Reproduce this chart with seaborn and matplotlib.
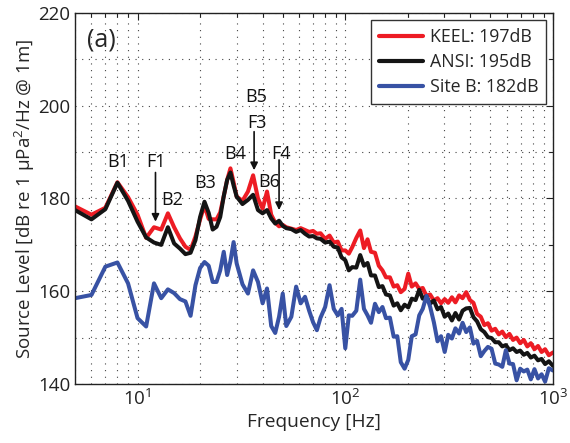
import matplotlib
matplotlib.use("Agg")
import matplotlib.pyplot as plt
import pandas as pd
import seaborn as sns
from matplotlib.ticker import FixedLocator, LogLocator, LogFormatterMathtext, NullFormatter

# Frequency grid [Hz] shared by the three spectra
freq_hz = [5, 6, 7, 8, 9, 10, 11, 12, 13, 14, 15, 16, 17, 18, 19, 20, 21, 22, 23, 24, 25, 26, 27, 28, 29, 30,
           32, 34, 36, 38, 40, 42, 44, 46, 48, 50, 52, 55, 58, 61,
           64, 67, 70, 73, 76, 80, 84, 88, 92, 96,
           100, 104, 108, 113, 118, 123, 128, 133, 139, 145,
           151, 157, 164, 171, 178, 185, 193, 201, 209, 218,
           227, 236, 246, 256, 267, 278, 289, 301, 313, 326,
           339, 353, 367, 382, 398, 414, 431, 449, 467, 486,
           506, 527, 548, 570, 593, 617, 642, 668, 695, 723,
           752, 782, 814, 847, 881, 916, 955, 1000]

# Source levels [dB re 1 uPa^2/Hz @ 1m]
keel_db = [178.3, 176.5, 178.0, 183.5, 180.3, 176.5, 171.5, 173.8, 173.3, 176.8, 173.8, 171.4, 169.6, 168.9, 171.8,
           175.5, 178.5, 175.6, 175.5, 175.5, 177.0, 180.5, 184.0, 186.5, 183.5, 180.4,
           179.5, 181.5, 185.0, 180.0, 177.8, 181.5, 176.5, 174.8, 174.0, 174.3, 173.8, 173.5, 173.2, 173.6,
           173.2, 172.8, 173.0, 172.4, 172.5, 171.3, 172.0, 170.5, 170.7, 168.8,
           168.8, 168.1, 169.5, 171.5, 173.1, 169.3, 171.2, 168.5, 168.3, 165.5,
           164.5, 163.0, 163.0, 161.0, 161.3, 159.8, 160.5, 163.8, 161.0, 161.7,
           160.5, 160.7, 159.0, 159.3, 158.0, 158.5, 157.4, 158.3, 157.5, 158.7,
           157.6, 159.1, 158.5, 159.8, 158.1, 157.5, 155.1, 154.5, 152.7, 153.1,
           151.5, 151.9, 150.7, 151.3, 150.1, 150.8, 149.5, 150.0, 148.8, 149.5,
           148.1, 148.8, 147.5, 148.2, 146.9, 147.5, 146.2, 146.8]

ansi_db = [177.5, 175.5, 177.7, 183.4, 179.5, 175.0, 171.6, 170.5, 170.0, 173.8, 170.3, 169.2, 168.0, 168.3, 171.0,
           176.0, 179.3, 176.9, 173.3, 173.9, 176.0, 180.5, 184.0, 185.6, 182.8, 180.4,
           178.8, 179.7, 180.8, 177.5, 176.8, 177.5, 175.7, 174.6, 175.2, 174.1, 173.6, 173.4, 172.8, 173.2,
           172.4, 171.8, 171.9, 171.4, 171.3, 170.5, 170.7, 169.6, 169.4, 167.3,
           166.7, 164.5, 165.2, 165.1, 167.8, 165.5, 166.1, 163.4, 163.4, 160.9,
           161.1, 159.3, 159.1, 156.9, 157.4, 155.9, 157.1, 156.5, 158.4, 158.1,
           160.3, 158.4, 158.9, 157.3, 158.0, 156.1, 156.6, 154.5, 155.2, 153.7,
           155.3, 153.9, 155.8, 156.3, 156.4, 154.4, 153.5, 151.8, 151.2, 150.1,
           149.9, 149.0, 149.0, 148.1, 148.4, 147.3, 147.7, 146.9, 147.2, 146.3,
           146.7, 145.7, 146.1, 145.1, 145.4, 144.3, 144.9, 143.9]

site_b_db = [158.5, 159.2, 165.3, 166.2, 161.7, 154.2, 152.4, 161.7, 158.5, 160.4, 159.6, 158.3, 157.8, 154.7, 161.3,
             165.0, 166.3, 165.5, 162.0, 162.0, 164.5, 168.5, 163.5, 166.5, 170.6, 166.0,
             161.5, 159.5, 164.5, 162.0, 157.4, 160.6, 152.5, 151.0, 154.5, 159.5, 152.5, 154.5, 161.0, 157.4,
             158.8, 155.8, 153.3, 151.6, 154.3, 156.6, 161.3, 156.2, 154.8, 156.2,
             147.7, 154.8, 154.7, 155.8, 162.5, 156.2, 154.8, 153.2, 157.3, 155.5,
             156.6, 154.2, 154.3, 150.2, 150.3, 144.7, 143.3, 145.2, 150.3, 150.7,
             154.8, 156.2, 159.0, 156.7, 153.3, 149.2, 150.3, 146.9, 150.6, 149.8,
             152.0, 150.9, 153.2, 151.2, 152.2, 148.7, 149.3, 146.0, 147.1, 148.0,
             147.6, 144.4, 144.2, 143.7, 147.3, 144.4, 144.3, 140.8, 143.3, 142.7,
             143.1, 141.0, 143.2, 141.2, 142.1, 140.5, 143.4, 142.9]

series_labels = ["KEEL: 197dB", "ANSI: 195dB", "Site B: 182dB"]
series_colors = ["#ed1c24", "#141414", "#3852a4"]

# Text labels for spectral features: (text, frequency, level)
feature_text = ["B1", "F1", "B2", "B3", "B4", "B5", "F3", "B6", "F4"]
feature_freq = [8.07, 12.3, 14.6, 21.1, 29.4, 37.4, 37.4, 43.0, 48.9]
feature_level = [187.8, 187.8, 179.7, 183.3, 189.6, 201.8, 196.2, 183.6, 189.6]

# Arrows: frequency, tail level, head level
arrow_freq = [12.2, 36.4, 48.0]
arrow_tail = [185.6, 194.4, 188.3]
arrow_head = [175.0, 186.1, 177.5]

sns.set_style("white")
plt.rcParams["font.family"] = ["Open Sans", "DejaVu Sans"]
plt.rcParams["mathtext.fontset"] = "custom"
plt.rcParams["mathtext.rm"] = "Open Sans"
plt.rcParams["mathtext.it"] = "Open Sans:italic"

df = pd.DataFrame({
    "Frequency": freq_hz * 3,
    "Level": keel_db + ansi_db + site_b_db,
    "Series": [series_labels[0]] * len(freq_hz) + [series_labels[1]] * len(freq_hz) + [series_labels[2]] * len(freq_hz),
})

fig, ax = plt.subplots(figsize=(5.7, 4.43), dpi=100)
fig.subplots_adjust(left=0.1316, right=0.9702, bottom=0.1332, top=0.9707)

sns.lineplot(data=df, x="Frequency", y="Level", hue="Series", hue_order=series_labels,
             palette=dict(zip(series_labels, series_colors)), linewidth=2.9,
             estimator=None, sort=False, ax=ax)

ax.set_xscale("log")
ax.set_xlim(5, 1000)
ax.set_ylim(140, 220)

ax.xaxis.set_major_locator(LogLocator(base=10))
ax.xaxis.set_major_formatter(LogFormatterMathtext())
ax.xaxis.set_minor_locator(LogLocator(base=10, subs=[2, 3, 4, 5, 6, 7, 8, 9]))
ax.xaxis.set_minor_formatter(NullFormatter())
ax.yaxis.set_major_locator(FixedLocator([140, 160, 180, 200, 220]))
ax.yaxis.set_minor_locator(FixedLocator([150, 170, 190, 210]))

ax.grid(True, which="both", linestyle=(0, (1, 5)), color="#444444", linewidth=0.8)
ax.tick_params(which="both", direction="in", top=True, right=True, colors="#222222", labelsize=13.5)
ax.tick_params(which="major", length=5, width=0.8)
ax.tick_params(which="minor", length=3, width=0.8)
for s in ax.spines.values():
    s.set_color("#222222")
    s.set_linewidth(1.0)

ax.set_xlabel("Frequency [Hz]", fontsize=13.8, labelpad=3)
ax.set_ylabel("Source Level [dB re 1 \u03bcPa$^2$/Hz @ 1m]", fontsize=13.5, labelpad=1)

for t, f, lv in zip(feature_text, feature_freq, feature_level):
    ax.text(f, lv, t, fontsize=13, ha="center", va="center", color="#111111")
for f, t0, t1 in zip(arrow_freq, arrow_tail, arrow_head):
    ax.annotate("", xy=(f, t1), xytext=(f, t0),
                arrowprops=dict(arrowstyle="-|>", color="#111111", lw=1.2, mutation_scale=11,
                                shrinkA=0, shrinkB=0))

ax.text(0.025, 0.96, "(a)", transform=ax.transAxes, fontsize=18, ha="left", va="top")

handles, labels = ax.get_legend_handles_labels()
leg = ax.legend(handles, labels, loc="upper right", fontsize=12.8, frameon=True, fancybox=False,
                edgecolor="#333333", framealpha=1, handlelength=2.5, borderaxespad=0.38,
                labelspacing=0.4, handletextpad=0.35, borderpad=0.45)
leg.get_frame().set_linewidth(1.0)
for line in leg.get_lines():
    line.set_linewidth(3)

fig.savefig("out.png", dpi=100)
